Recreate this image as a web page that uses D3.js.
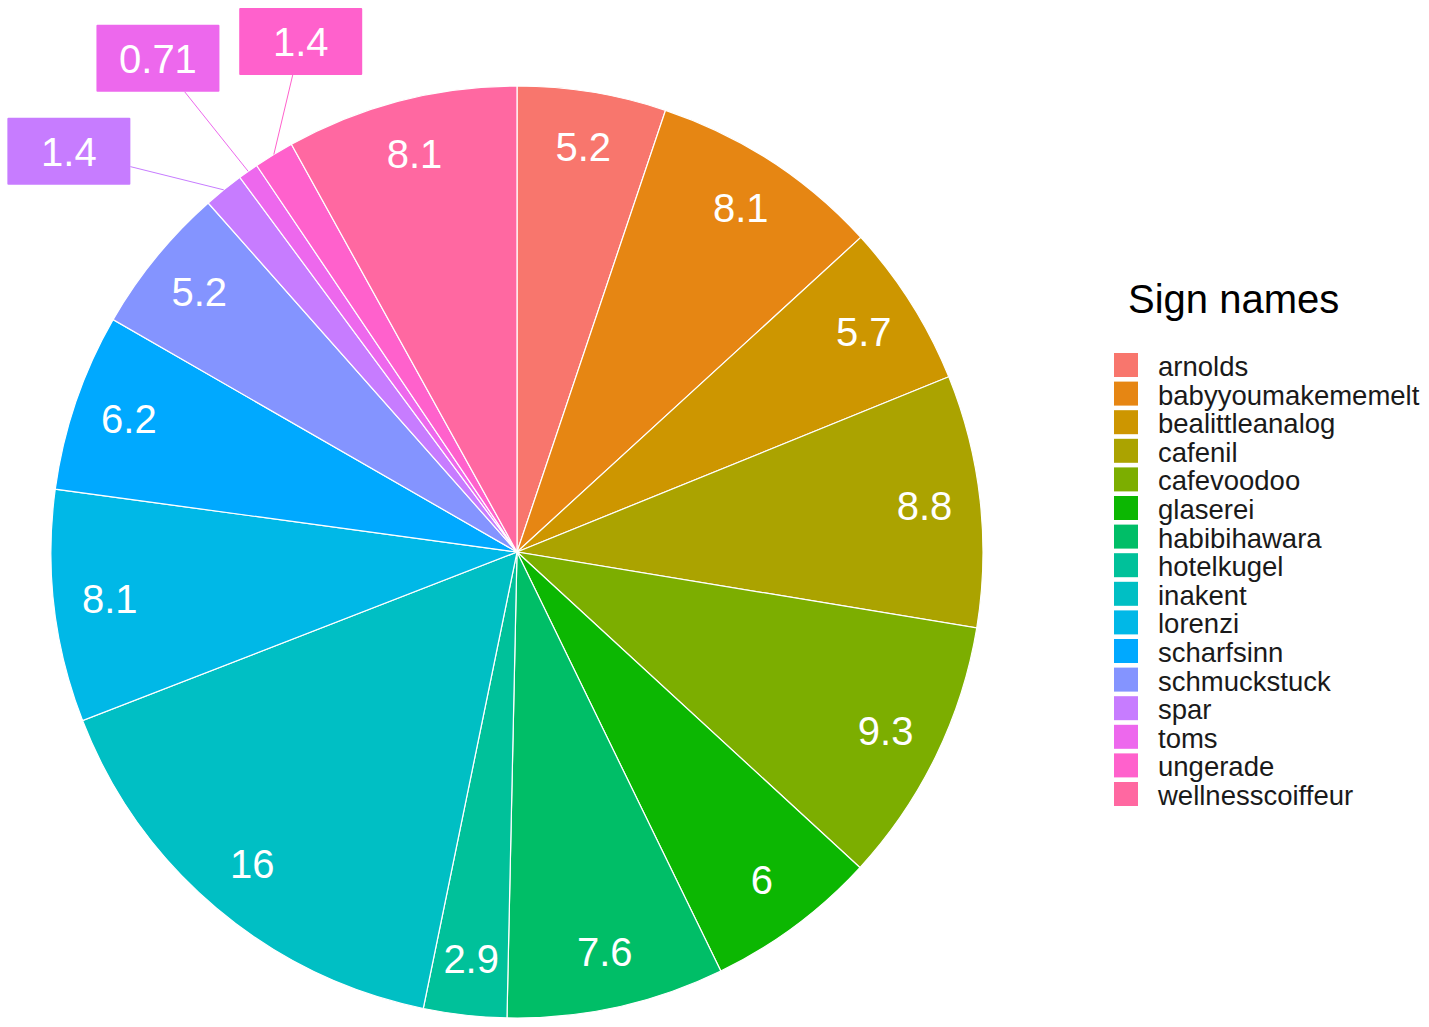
<!DOCTYPE html>
<html>
<head>
<meta charset="utf-8">
<script src="https://cdn.jsdelivr.net/npm/d3@7"></script>
<style>
  body { margin: 0; background: #fff; }
  svg text { font-family: "Liberation Sans", Arial, sans-serif; }
</style>
</head>
<body>
<div id="chart"></div>
<script>
// shares (%) per sign name, clockwise from 12 o'clock
const signNames = ["arnolds", "babyyoumakememelt", "bealittleanalog", "cafenil",
    "cafevoodoo", "glaserei", "habibihawara", "hotelkugel", "inakent", "lorenzi",
    "scharfsinn", "schmuckstuck", "spar", "toms", "ungerade", "wellnesscoiffeur"];
const shares = [5.2, 8.1, 5.7, 8.8, 9.3, 6, 7.6, 2.9, 16, 8.1, 6.2, 5.2, 1.4, 0.71, 1.4, 8.1];
const legendTitle = "Sign names";

// small slices get a repelled label box: [radius factor, angle shift in degrees]
const repelled = { spar: [1.29, -9.2], toms: [1.31, -0.8], ungerade: [1.19, 8.5] };

const width = 1429, height = 1027;
const cx = 517, cy = 552, R = 466;

// ggplot2 hue_pal() colours: polar LUV, c=100, l=65
function hclLuv(h, c, l) {
    const hr = h * Math.PI / 180;
    const U = c * Math.cos(hr), V = c * Math.sin(hr);
    const Xn = 95.047, Yn = 100, Zn = 108.883;
    const Y = l > 8 ? Yn * Math.pow((l + 16) / 116, 3) : Yn * l / 903.3;
    const t = Xn + 15 * Yn + 3 * Zn;
    const up = U / (13 * l) + 4 * Xn / t;
    const vp = V / (13 * l) + 9 * Yn / t;
    const X = 9 * Y * up / (4 * vp);
    const Z = 3 * Y / vp - X / 3 - 5 * Y;
    const x = X / 100, y = Y / 100, z = Z / 100;
    const lin = [
        3.240479 * x - 1.537150 * y - 0.498535 * z,
        -0.969256 * x + 1.875992 * y + 0.041556 * z,
        0.055648 * x - 0.204043 * y + 1.057311 * z
    ];
    const g = lin.map(v => {
        v = v <= 0.0031308 ? 12.92 * v : 1.055 * Math.pow(v, 1 / 2.4) - 0.055;
        return Math.round(255 * Math.max(0, Math.min(1, v)));
    });
    return d3.rgb(g[0], g[1], g[2]).formatHex();
}

const n = signNames.length;
const palette = d3.range(n).map(i => hclLuv(15 + 360 * i / n, 100, 65));
const color = d3.scaleOrdinal().domain(signNames).range(palette);

const data = signNames.map((name, i) => ({ name: name, value: shares[i] }));

const svg = d3.select("#chart")
    .append("svg")
    .attr("width", width)
    .attr("height", height);

const g = svg.append("g").attr("transform", `translate(${cx},${cy})`);

const pie = d3.pie().sort(null).value(d => d.value);
const arcs = pie(data);
const arc = d3.arc().innerRadius(0).outerRadius(R);

g.selectAll("path.slice")
    .data(arcs)
    .enter()
    .append("path")
    .attr("class", "slice")
    .attr("d", arc)
    .attr("fill", d => color(d.data.name))
    .attr("stroke", "#fff")
    .attr("stroke-width", 1.2);

// plain labels inside the big slices
const labelR = R * 0.88;
g.selectAll("text.inner")
    .data(arcs.filter(d => !repelled[d.data.name]))
    .enter()
    .append("text")
    .attr("class", "inner")
    .attr("x", d => labelR * Math.sin((d.startAngle + d.endAngle) / 2))
    .attr("y", d => -labelR * Math.cos((d.startAngle + d.endAngle) / 2))
    .attr("dy", "0.33em")
    .attr("text-anchor", "middle")
    .attr("fill", "#fff")
    .attr("font-size", 40)
    .text(d => d.data.value);

// repelled label boxes with leader lines
const boxW = 123, boxH = 67;
const small = arcs.filter(d => repelled[d.data.name]).map(d => {
    const mid = (d.startAngle + d.endAngle) / 2;
    const rp = repelled[d.data.name];
    const a = mid + rp[1] * Math.PI / 180;
    const bx = R * rp[0] * Math.sin(a), by = -R * rp[0] * Math.cos(a);
    const px = R * Math.sin(mid), py = -R * Math.cos(mid);
    // clip segment from box centre to point at the box edge
    const dx = px - bx, dy = py - by;
    const t = Math.min((boxW / 2) / Math.abs(dx), (boxH / 2) / Math.abs(dy));
    return { d: d, bx: bx, by: by, px: px, py: py, sx: bx + dx * t, sy: by + dy * t };
});

g.selectAll("line.leader")
    .data(small)
    .enter()
    .append("line")
    .attr("class", "leader")
    .attr("x1", s => s.sx).attr("y1", s => s.sy)
    .attr("x2", s => s.px).attr("y2", s => s.py)
    .attr("stroke", s => color(s.d.data.name))
    .attr("stroke-width", 1);

const boxes = g.selectAll("g.box")
    .data(small)
    .enter()
    .append("g")
    .attr("class", "box")
    .attr("transform", s => `translate(${s.bx},${s.by})`);

boxes.append("rect")
    .attr("x", -boxW / 2).attr("y", -boxH / 2)
    .attr("width", boxW).attr("height", boxH)
    .attr("rx", 1)
    .attr("fill", s => color(s.d.data.name));

boxes.append("text")
    .attr("text-anchor", "middle")
    .attr("dy", "0.36em")
    .attr("fill", "#fff")
    .attr("font-size", 40)
    .text(s => s.d.data.value);

// legend
const legend = svg.append("g").attr("transform", "translate(1114,0)");

legend.append("text")
    .attr("x", 14)
    .attr("y", 313)
    .attr("font-size", 40)
    .attr("fill", "#000")
    .text(legendTitle);

const keyY = d3.scaleBand().domain(signNames).range([353, 353 + 28.6 * n]);

const keys = legend.selectAll("g.key")
    .data(signNames)
    .enter()
    .append("g")
    .attr("class", "key")
    .attr("transform", d => `translate(0,${keyY(d)})`);

keys.append("rect")
    .attr("width", 24)
    .attr("height", 24)
    .attr("fill", d => color(d));

keys.append("text")
    .attr("x", 44)
    .attr("y", 23)
    .attr("font-size", 27.5)
    .attr("fill", "#1a1a1a")
    .text(d => d);
</script>
</body>
</html>
